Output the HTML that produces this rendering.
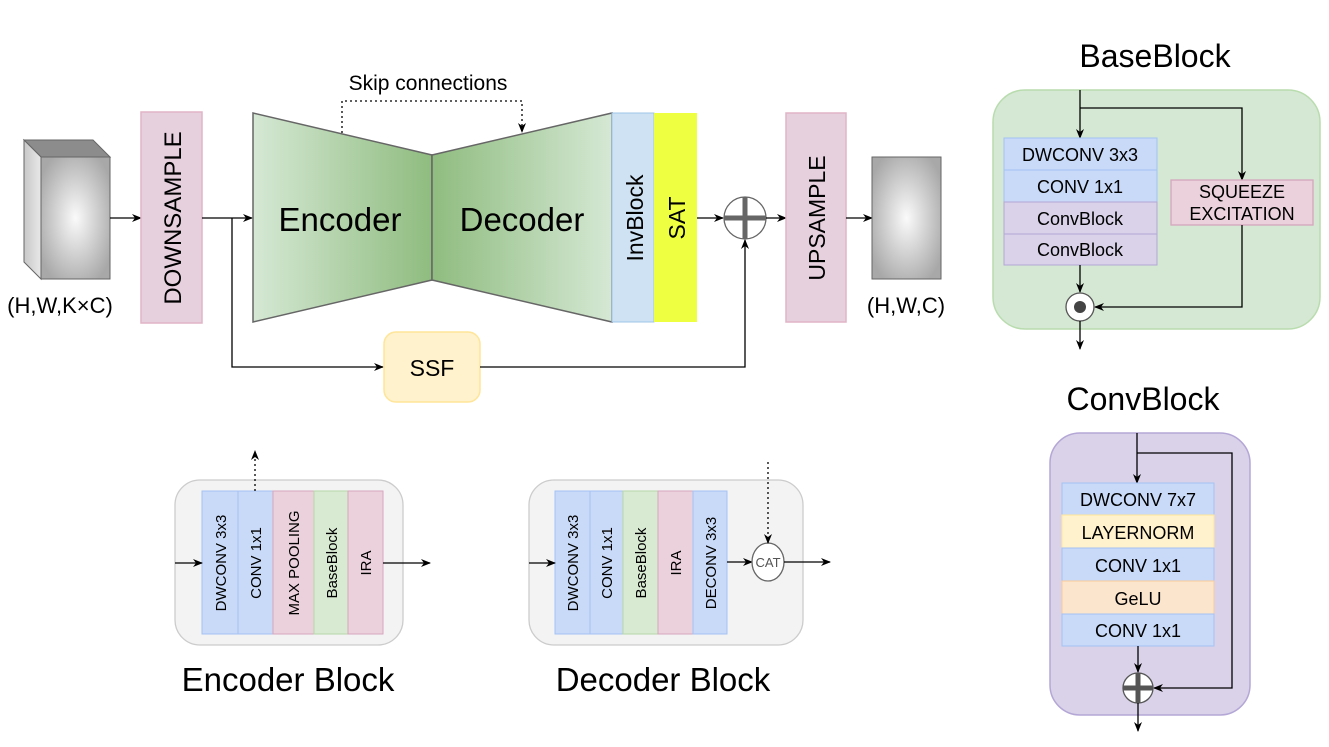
<!DOCTYPE html>
<html><head><meta charset="utf-8"><style>body{margin:0;background:#fff}svg{display:block}text{font-family:"Liberation Sans",Arial,sans-serif;fill:#000}</style></head>
<body>
<svg width="1329" height="747" viewBox="0 0 1329 747" xmlns="http://www.w3.org/2000/svg">
<defs>
<marker id="a" markerWidth="10" markerHeight="8" refX="9" refY="4" orient="auto" markerUnits="userSpaceOnUse"><path d="M0,0 L10,4 L0,8 L3,4 Z" fill="#000"/></marker>
<radialGradient id="cube" cx="0.5" cy="0.5" r="0.6"><stop offset="0" stop-color="#fafafa"/><stop offset="1" stop-color="#a8a8a8"/></radialGradient>
<linearGradient id="side" x1="0" x2="1"><stop offset="0" stop-color="#c8c8c8"/><stop offset="1" stop-color="#e8e8e8"/></linearGradient>
<linearGradient id="enc" x1="0" x2="1"><stop offset="0" stop-color="#d5e8d4"/><stop offset="1" stop-color="#8fbc7f"/></linearGradient>
<linearGradient id="dec" x1="0" x2="1"><stop offset="0" stop-color="#8fbc7f"/><stop offset="1" stop-color="#d5e8d4"/></linearGradient>
</defs>

<polygon points="24,140 93,140 110,157 41,157" fill="#8c8c8c" stroke="#666"/>
<polygon points="24,140 41,157 41,279 24,262" fill="url(#side)" stroke="#666"/>
<rect x="41" y="157" width="69" height="122" fill="url(#cube)" stroke="#666"/>
<text x="60" y="313" font-size="22" text-anchor="middle">(H,W,K×C)</text>
<line x1="110" y1="218" x2="141" y2="218" stroke="#000" stroke-width="1.3" marker-end="url(#a)"/>

<rect x="141" y="112" width="61" height="211" fill="#e6d0de" stroke="#e0b4c6" stroke-width="1.5"/>
<text transform="translate(181,218) rotate(-90)" font-size="24" text-anchor="middle">DOWNSAMPLE</text>

<line x1="202" y1="218" x2="252" y2="218" stroke="#000" stroke-width="1.3" marker-end="url(#a)"/>
<polyline points="232,218 232,367 383,367" fill="none" stroke="#000" stroke-width="1.3" marker-end="url(#a)"/>

<polygon points="253,113 432,155 432,280 253,322" fill="url(#enc)" stroke="#666" stroke-width="1.5"/>
<polygon points="432,155 612,113 612,322 432,280" fill="url(#dec)" stroke="#666" stroke-width="1.5"/>
<text x="340" y="231" font-size="33" text-anchor="middle">Encoder</text>
<text x="522" y="231" font-size="33" text-anchor="middle">Decoder</text>

<text x="428" y="90" font-size="21" text-anchor="middle">Skip connections</text>
<polyline points="342,133 342,101 522,101 522,132" fill="none" stroke="#000" stroke-width="1.3" stroke-dasharray="2,3" marker-end="url(#a)"/>

<rect x="612" y="113" width="42" height="209" fill="#cfe2f3" stroke="#9fc5e8"/>
<text transform="translate(643,218) rotate(-90)" font-size="23" text-anchor="middle">InvBlock</text>
<rect x="654" y="113" width="43" height="209" fill="#eeff41"/>
<text transform="translate(685,218) rotate(-90)" font-size="23" text-anchor="middle">SAT</text>

<line x1="697" y1="218" x2="723" y2="218" stroke="#000" stroke-width="1.3" marker-end="url(#a)"/>
<circle cx="745" cy="218" r="21" fill="#fff" stroke="#666" stroke-width="1.3"/>
<line x1="724" y1="218" x2="766" y2="218" stroke="#666" stroke-width="5"/>
<line x1="745" y1="197" x2="745" y2="239" stroke="#666" stroke-width="5"/>
<line x1="766" y1="218" x2="786" y2="218" stroke="#000" stroke-width="1.3" marker-end="url(#a)"/>

<rect x="384" y="332" width="96" height="70" rx="12" fill="#fff2cc" stroke="#ffe599" stroke-width="1.5"/>
<text x="432" y="376" font-size="23" text-anchor="middle">SSF</text>
<polyline points="480,367 745,367 745,240" fill="none" stroke="#000" stroke-width="1.3" marker-end="url(#a)"/>

<rect x="786" y="113" width="60" height="209" fill="#e6d0de" stroke="#e0b4c6" stroke-width="1.5"/>
<text transform="translate(825,218) rotate(-90)" font-size="23" text-anchor="middle">UPSAMPLE</text>
<line x1="846" y1="218" x2="872" y2="218" stroke="#000" stroke-width="1.3" marker-end="url(#a)"/>
<rect x="872" y="157" width="69" height="122" fill="url(#cube)" stroke="#666"/>
<text x="906" y="313" font-size="22" text-anchor="middle">(H,W,C)</text>

<text x="1155" y="67" font-size="32" text-anchor="middle">BaseBlock</text>
<rect x="993" y="90" width="327" height="239" rx="32" fill="#d5e8d4" stroke="#b9dcae" stroke-width="1.5"/>
<line x1="1080" y1="90" x2="1080" y2="138" stroke="#000" stroke-width="1.3" marker-end="url(#a)"/>
<polyline points="1080,108 1242,108 1242,180" fill="none" stroke="#000" stroke-width="1.3" marker-end="url(#a)"/>
<rect x="1004" y="138" width="153" height="32" fill="#c9daf8" stroke="#a4c2f4"/>
<rect x="1004" y="170" width="153" height="32" fill="#c9daf8" stroke="#a4c2f4"/>
<rect x="1004" y="202" width="153" height="32" fill="#d9d2e9" stroke="#b4a7d6"/>
<rect x="1004" y="234" width="153" height="31" fill="#d9d2e9" stroke="#b4a7d6"/>
<rect x="1171" y="180" width="142" height="45" fill="#ead1dc" stroke="#d5a6bd" stroke-width="1.3"/>
<g font-size="18" text-anchor="middle">
<text x="1080" y="161">DWCONV 3x3</text>
<text x="1080" y="193">CONV 1x1</text>
<text x="1080" y="225">ConvBlock</text>
<text x="1080" y="256">ConvBlock</text>
<text x="1242" y="198">SQUEEZE</text>
<text x="1242" y="220">EXCITATION</text>
</g>
<polyline points="1242,225 1242,307 1095,307" fill="none" stroke="#000" stroke-width="1.3" marker-end="url(#a)"/>
<line x1="1080" y1="265" x2="1080" y2="292" stroke="#000" stroke-width="1.3" marker-end="url(#a)"/>
<circle cx="1080" cy="307" r="14" fill="#fff" stroke="#555" stroke-width="1.3"/>
<circle cx="1080" cy="307" r="6" fill="#444"/>
<line x1="1080" y1="321" x2="1080" y2="349" stroke="#000" stroke-width="1.3" marker-end="url(#a)"/>

<text x="1143" y="410" font-size="32" text-anchor="middle">ConvBlock</text>
<rect x="1050" y="433" width="200" height="282" rx="30" fill="#d9d2e9" stroke="#b4a7d6" stroke-width="1.5"/>
<line x1="1137" y1="433" x2="1137" y2="483" stroke="#000" stroke-width="1.3" marker-end="url(#a)"/>
<polyline points="1137,453 1232,453 1232,688 1154,688" fill="none" stroke="#000" stroke-width="1.3" marker-end="url(#a)"/>
<rect x="1062" y="483" width="152" height="32" fill="#c9daf8" stroke="#a4c2f4"/>
<rect x="1062" y="515" width="152" height="33" fill="#fff2cc" stroke="#ffe599"/>
<rect x="1062" y="548" width="152" height="33" fill="#c9daf8" stroke="#a4c2f4"/>
<rect x="1062" y="581" width="152" height="33" fill="#fce5cd" stroke="#f9cb9c"/>
<rect x="1062" y="614" width="152" height="32" fill="#c9daf8" stroke="#a4c2f4"/>
<g font-size="18" text-anchor="middle">
<text x="1138" y="506">DWCONV 7x7</text>
<text x="1138" y="539">LAYERNORM</text>
<text x="1138" y="572">CONV 1x1</text>
<text x="1138" y="605">GeLU</text>
<text x="1138" y="637">CONV 1x1</text>
</g>
<line x1="1138" y1="646" x2="1138" y2="672" stroke="#000" stroke-width="1.3" marker-end="url(#a)"/>
<circle cx="1138" cy="688" r="15" fill="#fff" stroke="#555" stroke-width="1.3"/>
<line x1="1123" y1="688" x2="1153" y2="688" stroke="#555" stroke-width="5"/>
<line x1="1138" y1="673" x2="1138" y2="703" stroke="#555" stroke-width="5"/>
<line x1="1138" y1="703" x2="1138" y2="731" stroke="#000" stroke-width="1.3" marker-end="url(#a)"/>

<rect x="175" y="480" width="228" height="165" rx="25" fill="#f3f3f3" stroke="#cccccc" stroke-width="1.3"/>
<rect x="202" y="491" width="36" height="143" fill="#c9daf8" stroke="#a4c2f4"/>
<rect x="238" y="491" width="35" height="143" fill="#c9daf8" stroke="#a4c2f4"/>
<rect x="273" y="491" width="41" height="143" fill="#ead1dc" stroke="#d5a6bd"/>
<rect x="314" y="491" width="34" height="143" fill="#d9ead3" stroke="#b6d7a8"/>
<rect x="348" y="491" width="35" height="143" fill="#ead1dc" stroke="#d5a6bd"/>
<g font-size="15" text-anchor="middle">
<text transform="translate(226,563) rotate(-90)">DWCONV 3x3</text>
<text transform="translate(261,563) rotate(-90)">CONV 1x1</text>
<text transform="translate(299,563) rotate(-90)">MAX POOLING</text>
<text transform="translate(337,563) rotate(-90)">BaseBlock</text>
<text transform="translate(371,563) rotate(-90)">IRA</text>
</g>
<line x1="175" y1="563" x2="202" y2="563" stroke="#000" stroke-width="1.3" marker-end="url(#a)"/>
<line x1="383" y1="563" x2="430" y2="563" stroke="#000" stroke-width="1.3" marker-end="url(#a)"/>
<line x1="255" y1="491" x2="255" y2="451" stroke="#000" stroke-width="1.3" stroke-dasharray="2,3" marker-end="url(#a)"/>
<text x="288" y="691" font-size="33" text-anchor="middle">Encoder Block</text>

<rect x="529" y="480" width="274" height="165" rx="25" fill="#f3f3f3" stroke="#cccccc" stroke-width="1.3"/>
<rect x="555" y="491" width="35" height="143" fill="#c9daf8" stroke="#a4c2f4"/>
<rect x="590" y="491" width="33" height="143" fill="#c9daf8" stroke="#a4c2f4"/>
<rect x="623" y="491" width="35" height="143" fill="#d9ead3" stroke="#b6d7a8"/>
<rect x="658" y="491" width="35" height="143" fill="#ead1dc" stroke="#d5a6bd"/>
<rect x="693" y="491" width="34" height="143" fill="#c9daf8" stroke="#a4c2f4"/>
<g font-size="15" text-anchor="middle">
<text transform="translate(578,563) rotate(-90)">DWCONV 3x3</text>
<text transform="translate(612,563) rotate(-90)">CONV 1x1</text>
<text transform="translate(646,563) rotate(-90)">BaseBlock</text>
<text transform="translate(681,563) rotate(-90)">IRA</text>
<text transform="translate(716,563) rotate(-90)">DECONV 3x3</text>
</g>
<line x1="529" y1="563" x2="555" y2="563" stroke="#000" stroke-width="1.3" marker-end="url(#a)"/>
<line x1="727" y1="562" x2="752" y2="562" stroke="#000" stroke-width="1.3" marker-end="url(#a)"/>
<ellipse cx="768" cy="562" rx="16" ry="19" fill="#fff" stroke="#666" stroke-width="1.3"/>
<text x="768" y="567" font-size="13" text-anchor="middle" style="fill:#555">CAT</text>
<line x1="784" y1="562" x2="830" y2="562" stroke="#000" stroke-width="1.3" marker-end="url(#a)"/>
<line x1="768" y1="462" x2="768" y2="543" stroke="#000" stroke-width="1.3" stroke-dasharray="2,3" marker-end="url(#a)"/>
<text x="663" y="691" font-size="33" text-anchor="middle">Decoder Block</text>
</svg>
</body></html>
